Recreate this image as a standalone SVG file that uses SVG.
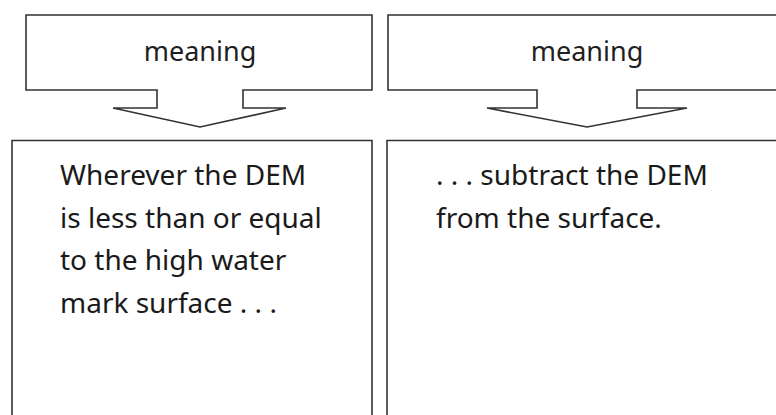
<svg xmlns="http://www.w3.org/2000/svg" width="776" height="415" viewBox="0 0 776 415">
<style>
.sh{fill:#fff;stroke:#333;stroke-width:1.6;stroke-linejoin:miter}
.hd{font-family:"Noto Sans","Open Sans",sans-serif;font-size:27px;fill:#1f1f1f;text-anchor:middle}
.bd{font-family:"Noto Sans","Open Sans",sans-serif;font-size:28px;fill:#1a1a1a}
</style>
<rect width="776" height="415" fill="#fff"/>
<g id="callout-left">
<path class="sh" d="M26,15 H372 V90 H243 V108 H286 L200,127 L113,108 H157 V90 H26 Z"/>
<text class="hd" x="200" y="61">meaning</text>
</g>
<g id="callout-right">
<path class="sh" d="M780,15 H388 V90 H537 V108 H487 L587,127 L687,108 H637 V90 H780"/>
<text class="hd" x="587" y="61">meaning</text>
</g>
<g id="box-left">
<path class="sh" d="M12,420 V140.5 H372 V420"/>
<text class="bd" x="60" y="185">Wherever the DEM</text>
<text class="bd" x="60" y="228">is less than or equal</text>
<text class="bd" x="60" y="270">to the high water</text>
<text class="bd" x="60" y="313">mark surface . . .</text>
</g>
<g id="box-right">
<path class="sh" d="M387,420 V140.5 H780"/>
<text class="bd" x="436" y="185">. . . subtract the DEM</text>
<text class="bd" x="436" y="228">from the surface.</text>
</g>
<g id="connectors"></g>
</svg>
